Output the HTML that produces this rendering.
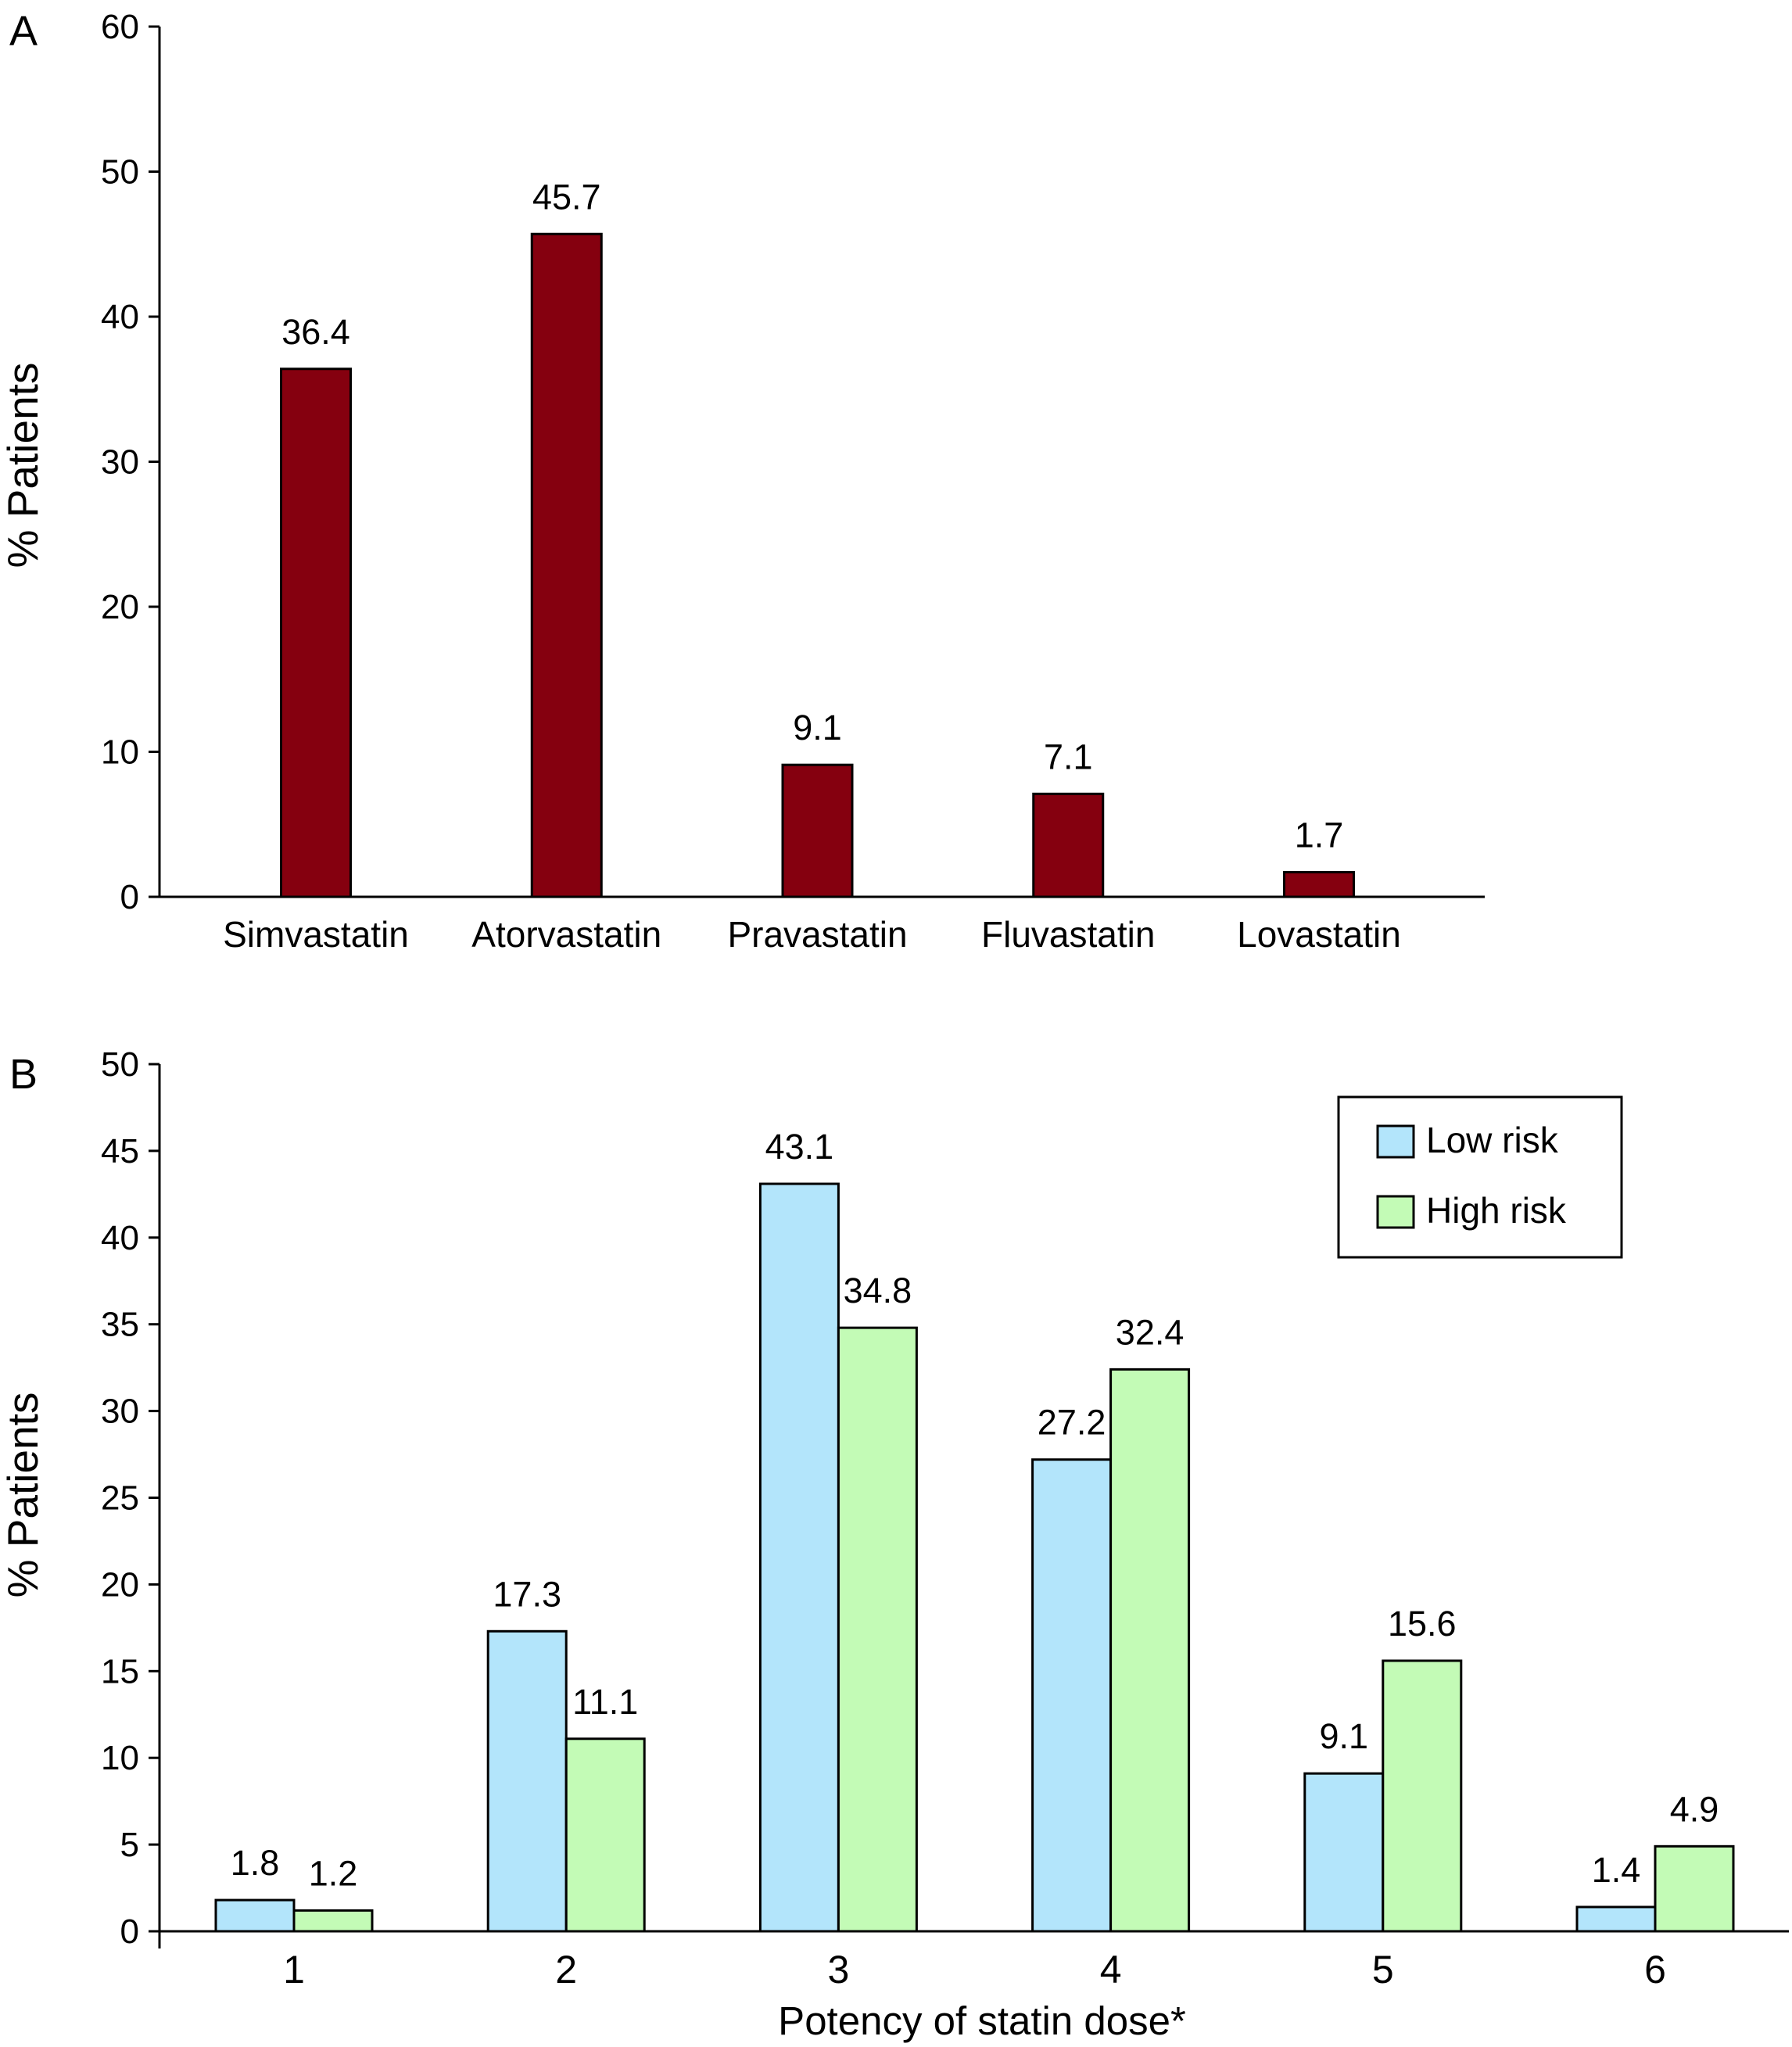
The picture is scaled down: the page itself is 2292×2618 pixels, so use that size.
<!DOCTYPE html>
<html><head><meta charset="utf-8"><style>
html,body{margin:0;padding:0;background:#fff}
svg{display:block;font-family:"Liberation Sans",Arial,sans-serif}
</style></head><body>
<svg id="chart" width="2292" height="2618" viewBox="0 0 2292 2618" xmlns="http://www.w3.org/2000/svg">
<text x="12" y="58" font-size="54">A</text>
<text x="12" y="1392" font-size="54">B</text>
<text transform="translate(48,595) rotate(-90)" text-anchor="middle" font-size="55">% Patients</text>
<text transform="translate(48,1912) rotate(-90)" text-anchor="middle" font-size="55">% Patients</text>
<text x="1256" y="2602" text-anchor="middle" font-size="51">Potency of statin dose*</text>
<g id="legend">
<rect x="1712" y="1403" width="362" height="205" fill="#fff" stroke="#000" stroke-width="3"/>
<rect x="1762" y="1440" width="46" height="40" fill="#b3e5fb" stroke="#000" stroke-width="3"/>
<text x="1824" y="1474" font-size="46">Low risk</text>
<rect x="1762" y="1530" width="46" height="40" fill="#c3fbb6" stroke="#000" stroke-width="3"/>
<text x="1824" y="1564" font-size="46">High risk</text>
</g>
</svg>
<script>
const aCategories=["Simvastatin","Atorvastatin","Pravastatin","Fluvastatin","Lovastatin"];
const aValues=[36.4,45.7,9.1,7.1,1.7];
const aTicks=[0,10,20,30,40,50,60];
const bCategories=["1","2","3","4","5","6"];
const bLow=[1.8,17.3,43.1,27.2,9.1,1.4];
const bHigh=[1.2,11.1,34.8,32.4,15.6,4.9];
const bTicks=[0,5,10,15,20,25,30,35,40,45,50];

const NS="http://www.w3.org/2000/svg";
const svg=document.getElementById('chart');
function mk(tag,attrs,parent){const e=document.createElementNS(NS,tag);for(const k in attrs)e.setAttribute(k,attrs[k]);(parent||svg).appendChild(e);return e;}

// Panel A scales
const aX0=204,aY0=1147,aYTop=34,aMax=60,aXEnd=1899;
const aCenters0=404,aStep=(1687-404)/4;
function ay(v){return aY0-(v/aMax)*(aY0-aYTop);}
function ax(i){return aCenters0+i*aStep;}
const gA=mk('g',{});


aTicks.forEach(t=>{
  const l=mk('line',{x1:aX0-14,x2:aX0,y1:ay(t),y2:ay(t),stroke:'#000','stroke-width':3},gA);
  
  
  const tx=mk('text',{x:aX0-26,y:ay(t)+15,'text-anchor':'end','font-size':44},gA);
  tx.textContent=t;
  
  
});
aCategories.forEach((c,i)=>{
  const w=89,h=aY0-ay(aValues[i]);
  const r=mk('rect',{x:ax(i)-w/2,y:ay(aValues[i]),width:w,height:h,fill:'#85000f',stroke:'#000','stroke-width':3},gA);
  
  
  const v=mk('text',{x:ax(i),y:ay(aValues[i])-32,'text-anchor':'middle','font-size':45},gA);
  v.textContent=aValues[i].toFixed(1);
  
  
  const lb=mk('text',{x:ax(i),y:1211,'text-anchor':'middle','font-size':46},gA);
  lb.textContent=c;
  
  
});
const axA1=mk('line',{x1:aX0,x2:aX0,y1:aYTop,y2:aY0,stroke:'#000','stroke-width':3},gA);


const axA2=mk('line',{x1:aX0,x2:aXEnd,y1:aY0,y2:aY0,stroke:'#000','stroke-width':3},gA);



// Panel B scales
const bX0=204,bY0=2470,bYTop=1361,bMax=50,bXEnd=2288;
const bC0=376,bStep=(2117-376)/5,bW=100;
function by(v){return bY0-(v/bMax)*(bY0-bYTop);}
function bx(i){return bC0+i*bStep;}
const gB=mk('g',{});


bTicks.forEach(t=>{
  const l=mk('line',{x1:bX0-14,x2:bX0,y1:by(t),y2:by(t),stroke:'#000','stroke-width':3},gB);
  
  
  const tx=mk('text',{x:bX0-26,y:by(t)+15,'text-anchor':'end','font-size':44},gB);
  tx.textContent=t;
  
  
});
bCategories.forEach((c,i)=>{
  const cx=bx(i);
  const r1=mk('rect',{x:cx-bW,y:by(bLow[i]),width:bW,height:bY0-by(bLow[i]),fill:'#b3e5fb',stroke:'#000','stroke-width':3},gB);
  
  
  const r2=mk('rect',{x:cx,y:by(bHigh[i]),width:bW,height:bY0-by(bHigh[i]),fill:'#c3fbb6',stroke:'#000','stroke-width':3},gB);
  
  
  const v1=mk('text',{x:cx-bW/2,y:by(bLow[i])-32,'text-anchor':'middle','font-size':45},gB);
  v1.textContent=bLow[i].toFixed(1);
  
  
  const v2=mk('text',{x:cx+bW/2,y:by(bHigh[i])-32,'text-anchor':'middle','font-size':45},gB);
  v2.textContent=bHigh[i].toFixed(1);
  
  
  const lb=mk('text',{x:cx,y:2536,'text-anchor':'middle','font-size':50},gB);
  lb.textContent=c;
  
  
});
const axB1=mk('line',{x1:bX0,x2:bX0,y1:bYTop,y2:bY0+22,stroke:'#000','stroke-width':3},gB);


const axB2=mk('line',{x1:bX0,x2:bXEnd,y1:bY0,y2:bY0,stroke:'#000','stroke-width':3},gB);


</script>
</body></html>
